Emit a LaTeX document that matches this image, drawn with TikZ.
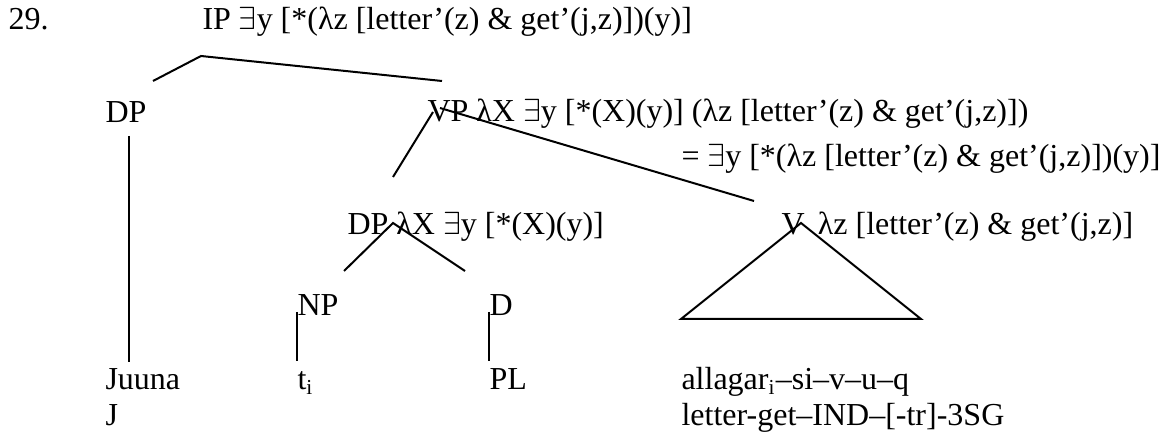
\documentclass[tikz,border=0pt]{standalone}
\usepackage{fontspec}
\setmainfont{Liberation Serif}
\begin{document}
\begin{tikzpicture}[x=0.375pt,y=-0.375pt,
  txt/.style={anchor=base west,inner sep=0pt,font=\fontsize{12}{14}\selectfont},
  br/.style={line width=0.75pt}]
\useasboundingbox (0,0) rectangle (1167,434);
% texts
\node[txt] (num) at (8,30) {29.};
\node[txt] (ip) at (202,30) {IP $\exists$y [*(λz [letter’(z) \& get’(j,z)])(y)]};
\node[txt] (dp) at (105,123) {DP};
\node[txt] (vp) at (427,122) {VP λX $\exists$y [*(X)(y)] (λz [letter’(z) \& get’(j,z)])};
\node[txt] (eq) at (681,167) {= $\exists$y [*(λz [letter’(z) \& get’(j,z)])(y)]};
\node[txt] (dp2) at (347,235) {DP λX $\exists$y [*(X)(y)]};
\node[txt] (v) at (781,235) {V\, λz [letter’(z) \& get’(j,z)]};
\node[txt] (np) at (297,316) {NP};
\node[txt] (d) at (489,316) {D};
\node[txt] (juuna) at (105,390) {Juuna};
\node[txt] (ti) at (297,390) {t\textsubscript{i}};
\node[txt] (pl) at (489,390) {PL};
\node[txt] (alla) at (681,390) {allagar\textsubscript{i}–si–v–u–q};
\node[txt] (j) at (105,425) {J};
\node[txt] (gloss) at (681,425) {letter-get–IND–[-tr]-3SG};
% branch points
\coordinate (ipA) at (201,56);
\coordinate (ipL) at (153,81);
\coordinate (ipR) at (442,81);
\coordinate (dpT) at (129,136);
\coordinate (dpB) at (129,362);
\coordinate (vpL1) at (433,112);
\coordinate (vpL2) at (393,177);
\coordinate (vpR1) at (440,108);
\coordinate (vpR2) at (754,201);
\coordinate (dp2A) at (393,223);
\coordinate (dp2L) at (344,271);
\coordinate (dp2R) at (465,271);
\coordinate (triA) at (801,223);
\coordinate (triL) at (681,319);
\coordinate (triR) at (921,319);
\coordinate (npT) at (297,312);
\coordinate (npB) at (297,361);
\coordinate (dT) at (489,312);
\coordinate (dB) at (489,361);
% connectors
\draw[br] (ipL) -- (ipA) -- (ipR);
\draw[br] (dpT) -- (dpB);
\draw[br] (vpL1) -- (vpL2);
\draw[br] (vpR1) -- (vpR2);
\draw[br] (dp2L) -- (dp2A) -- (dp2R);
\draw[br] (triA) -- (triL) -- (triR) -- cycle;
\draw[br] (npT) -- (npB);
\draw[br] (dT) -- (dB);
\end{tikzpicture}
\end{document}
